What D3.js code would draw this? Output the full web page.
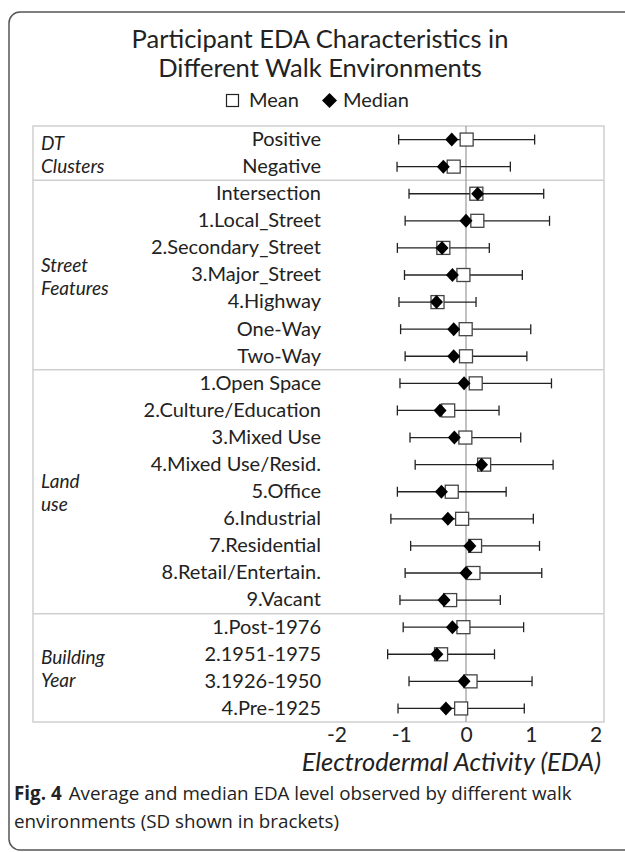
<!DOCTYPE html>
<html>
<head>
<meta charset="utf-8">
<script src="https://cdn.jsdelivr.net/npm/d3@7"></script>
<style>
  html, body { margin: 0; background: #fff; overflow: hidden; }
  svg { display: block; }
  svg text { fill: #222; }
</style>
</head>
<body>
<div id="container"></div>
<script>
// rows, top to bottom
const labels = ["Positive", "Negative", "Intersection", "1.Local_Street", "2.Secondary_Street",
    "3.Major_Street", "4.Highway", "One-Way", "Two-Way", "1.Open Space", "2.Culture/Education",
    "3.Mixed Use", "4.Mixed Use/Resid.", "5.Office", "6.Industrial", "7.Residential",
    "8.Retail/Entertain.", "9.Vacant", "1.Post-1976", "2.1951-1975", "3.1926-1950", "4.Pre-1925"];
const means = [0.01, -0.19, 0.16, 0.175, -0.35, -0.04, -0.44, -0.005, 0.0, 0.15, -0.275,
    -0.01, 0.28, -0.22, -0.06, 0.14, 0.115, -0.245, -0.04, -0.385, 0.07, -0.075];
const sds = [1.05, 0.875, 1.04, 1.115, 0.71, 0.91, 0.595, 1.005, 0.94, 1.17, 0.785,
    0.855, 1.065, 0.84, 1.10, 0.995, 1.055, 0.775, 0.93, 0.825, 0.95, 0.975];
const medians = [-0.22, -0.35, 0.18, 0.0, -0.37, -0.21, -0.455, -0.19, -0.19, -0.03, -0.40,
    -0.18, 0.24, -0.38, -0.28, 0.06, 0.0, -0.34, -0.21, -0.45, -0.03, -0.31];
const groupNames = [["DT", "Clusters"], ["Street", "Features"], ["Land", "use"], ["Building", "Year"]];
const groupSizes = [2, 7, 9, 4];
const xTicks = [-2, -1, 0, 1, 2];

const W = 625, H = 852;
const plot = { left: 33, right: 604, top: 126, bottom: 722 };

const svg = d3.select("#container").append("svg")
    .attr("width", W)
    .attr("height", H);

// outer rounded frame: only the left side is inside the picture
svg.append("path")
    .attr("d", "M640,12H20A11,11 0 0 0 9,23V839A11,11 0 0 0 20,850H640")
    .attr("fill", "none")
    .attr("stroke", "#555")
    .attr("stroke-width", 1.5);

const title = svg.append("text")
    .attr("text-anchor", "middle")
    .style("font-family", "Lato, sans-serif")
    .style("font-weight", 400)
    .style("font-size", "25.5px");
title.append("tspan").attr("x", 320).attr("y", 48).text("Participant EDA Characteristics in");
title.append("tspan").attr("x", 320).attr("y", 77).text("Different Walk Environments");

// legend
const legend = svg.append("g")
    .style("font-family", "Lato, sans-serif")
    .style("font-size", "20px");
legend.append("rect")
    .attr("x", 226.5).attr("y", 94.5).attr("width", 12).attr("height", 12)
    .attr("fill", "#fff").attr("stroke", "#222").attr("stroke-width", 1.2);
legend.append("text").attr("x", 249).attr("y", 107).text("Mean");
legend.append("path")
    .attr("transform", "translate(329.5,100.5)")
    .attr("d", "M0,-7.5L7.5,0L0,7.5L-7.5,0Z")
    .attr("fill", "#000");
legend.append("text").attr("x", 343).attr("y", 107).text("Median");

const x = d3.scaleLinear()
    .domain([-2, 2])
    .range([336.5, 595.5]);

const y = d3.scaleBand()
    .domain(labels)
    .range([plot.top, plot.bottom])
    .padding(0);

// plot frame
svg.append("rect")
    .attr("x", plot.left).attr("y", plot.top)
    .attr("width", plot.right - plot.left).attr("height", plot.bottom - plot.top)
    .attr("fill", "none")
    .attr("stroke", "#cfcfcf")
    .attr("stroke-width", 1.5);

// group separators
let idx = 0;
const groupBounds = groupSizes.map(n => {
    const b = { start: idx, end: idx + n };
    idx += n;
    return b;
});
groupBounds.slice(0, -1).forEach(b => {
    const yy = y(labels[b.end]);
    svg.append("line")
        .attr("x1", plot.left).attr("x2", plot.right)
        .attr("y1", yy).attr("y2", yy)
        .attr("stroke", "#cfcfcf")
        .attr("stroke-width", 1.5);
});

// group labels
groupBounds.forEach((b, i) => {
    const top = y(labels[b.start]);
    const bottom = y(labels[b.end - 1]) + y.bandwidth();
    const mid = (top + bottom) / 2 + 2;
    const t = svg.append("text")
        .style("font-family", "Lato, sans-serif")
        .style("font-style", "italic")
        .style("font-size", "19px");
    groupNames[i].forEach((line, j) => {
        t.append("tspan")
            .attr("x", 41)
            .attr("y", mid + (j - (groupNames[i].length - 1) / 2) * 23 + 6)
            .text(line);
    });
});

// zero line
svg.append("line")
    .attr("x1", x(0)).attr("x2", x(0))
    .attr("y1", plot.top).attr("y2", plot.bottom)
    .attr("stroke", "#999")
    .attr("stroke-width", 1.2);

// row labels
const yAxis = svg.append("g")
    .attr("transform", "translate(326,0)")
    .call(d3.axisLeft(y).tickSize(0).tickPadding(5));
yAxis.select(".domain").remove();
yAxis.selectAll("text")
    .style("font-family", "Lato, sans-serif")
    .style("font-size", "20px")
    .attr("fill", "#222");

// x axis labels (plain hyphen for negatives, as in the original)
const xAxis = svg.append("g")
    .attr("transform", `translate(0,${plot.bottom})`)
    .call(d3.axisBottom(x).tickValues(xTicks).tickSize(0).tickPadding(5).tickFormat(d => String(d)));
xAxis.select(".domain").remove();
xAxis.selectAll("text")
    .style("font-family", "Lato, sans-serif")
    .style("font-size", "21px")
    .attr("fill", "#222");

svg.append("text")
    .attr("x", 601).attr("y", 771)
    .attr("text-anchor", "end")
    .style("font-family", "Lato, sans-serif")
    .style("font-style", "italic")
    .style("font-size", "25.5px")
    .text("Electrodermal Activity (EDA)");

// error bars
const rows = labels.map((l, i) => ({ label: l, mean: means[i], sd: sds[i], median: medians[i] }));
const cy = d => y(d.label) + y.bandwidth() / 2;

const bars = svg.append("g").selectAll("g")
    .data(rows)
    .enter().append("g")
    .attr("stroke", "#222")
    .attr("stroke-width", 1.3);
bars.append("line")
    .attr("x1", d => x(d.mean - d.sd)).attr("x2", d => x(d.mean + d.sd))
    .attr("y1", cy).attr("y2", cy);
bars.append("line")
    .attr("x1", d => x(d.mean - d.sd)).attr("x2", d => x(d.mean - d.sd))
    .attr("y1", d => cy(d) - 5).attr("y2", d => cy(d) + 5);
bars.append("line")
    .attr("x1", d => x(d.mean + d.sd)).attr("x2", d => x(d.mean + d.sd))
    .attr("y1", d => cy(d) - 5).attr("y2", d => cy(d) + 5);

svg.append("g").selectAll("rect")
    .data(rows)
    .enter().append("rect")
    .attr("x", d => x(d.mean) - 6.5)
    .attr("y", d => cy(d) - 6.5)
    .attr("width", 13).attr("height", 13)
    .attr("fill", "#fff")
    .attr("stroke", "#444")
    .attr("stroke-width", 1.3);

svg.append("g").selectAll("path")
    .data(rows)
    .enter().append("path")
    .attr("transform", d => `translate(${x(d.median)},${cy(d)})`)
    .attr("d", "M0,-7L6.5,0L0,7L-6.5,0Z")
    .attr("fill", "#000");

// caption
const cap = svg.append("text")
    .style("font-family", "'Open Sans', sans-serif")
    .style("font-size", "18.8px")
    .attr("fill", "#222");
const l1 = cap.append("tspan").attr("x", 14).attr("y", 800);
l1.append("tspan").style("font-weight", "bold").text("Fig. 4");
l1.append("tspan").attr("dx", 7).text("Average and median EDA level observed by different walk");
cap.append("tspan").attr("x", 14).attr("y", 828).text("environments (SD shown in brackets)");
</script>
</body>
</html>
